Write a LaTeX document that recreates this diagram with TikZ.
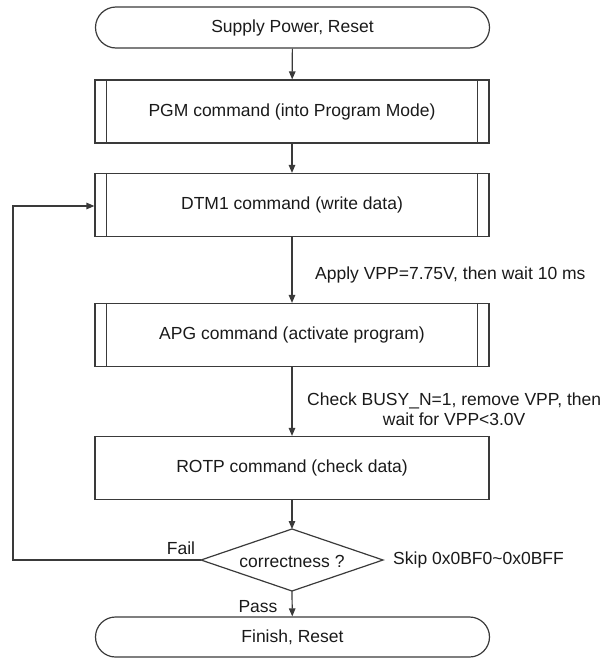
\documentclass[tikz,border=0pt]{standalone}
\usepackage{fontspec}
\setmainfont{Liberation Sans}
\usetikzlibrary{shapes.misc,shapes.geometric,arrows.meta}
\definecolor{ln}{HTML}{3A3A3A}
\definecolor{tx}{HTML}{1A1A1A}
\begin{document}
\begin{tikzpicture}[x=1pt,y=-1pt,
  every node/.style={text=tx,font=\fontsize{17.5}{20}\selectfont},
  base/.style={draw=ln,line width=1.2pt,inner sep=0pt,minimum width=394pt},
  term/.style={base,rounded rectangle,rounded rectangle arc length=180,minimum height=41pt},
  proc/.style={base,rectangle,minimum height=63pt},
  predef/.style={proc,append after command={
     \pgfextra{\draw[ln,line width=1.2pt] ([xshift=12pt]\tikzlastnode.north west) -- ([xshift=12pt]\tikzlastnode.south west);
               \draw[ln,line width=1.2pt] ([xshift=-12pt]\tikzlastnode.north east) -- ([xshift=-12pt]\tikzlastnode.south east);}}},
  flow/.style={draw=ln,line width=1.2pt,-{Triangle[length=8pt,width=6.5pt]}},
  lbl/.style={inner sep=0pt}]
\useasboundingbox (0,0) rectangle (601,659);
\node[term] (start) at (292.5,27.5) {Supply Power, Reset};
\node[predef] (pgm) at (292,111.5) {PGM command (into Program Mode)};
\node[predef] (dtm) at (292,205) {DTM1 command (write data)};
\node[predef] (apg) at (292,335) {APG command (activate program)};
\node[proc] (rotp) at (292,468) {ROTP command (check data)};
\node[inner sep=0pt,minimum size=0pt] (chk) at (292,560) {};
\path (chk) ++(-91,0) coordinate (dl) ++(91,-31) coordinate (dt) ++(91,31) coordinate (dr) ++(-91,31) coordinate (db);
\draw[ln,line width=1.2pt] (dl) -- (dt) -- (dr) -- (db) -- cycle;
\node[lbl] (ctext) at (292,561) {correctness ?};
\node[term,minimum height=40pt] (fin) at (292.5,637) {Finish, Reset};
\coordinate (fbl) at (13,560);
\coordinate (ful) at (13,206);

\draw[flow] (start) -- (pgm);
\draw[flow] (pgm) -- (dtm);
\draw[flow] (dtm) -- (apg);
\draw[flow] (apg) -- (rotp);
\draw[flow] (rotp) -- (dt);
\draw[flow] (db) -- (fin);
\draw[flow] (dl) -- (fbl) -- (ful) -- (ful -| dtm.west);

\node[lbl,anchor=west] (apply) at (315,275) {Apply VPP=7.75V, then wait 10 ms};
\node[lbl,anchor=west,align=center] (busy) at (307,409) {Check BUSY\_N=1, remove VPP, then\\wait for VPP<3.0V};
\node[lbl] (fail) at (181,548) {Fail};
\node[lbl] (pass) at (258,607) {Pass};
\node[lbl,anchor=west] (skip) at (393,560) {Skip 0x0BF0\char"7E 0x0BFF};
\end{tikzpicture}
\end{document}
